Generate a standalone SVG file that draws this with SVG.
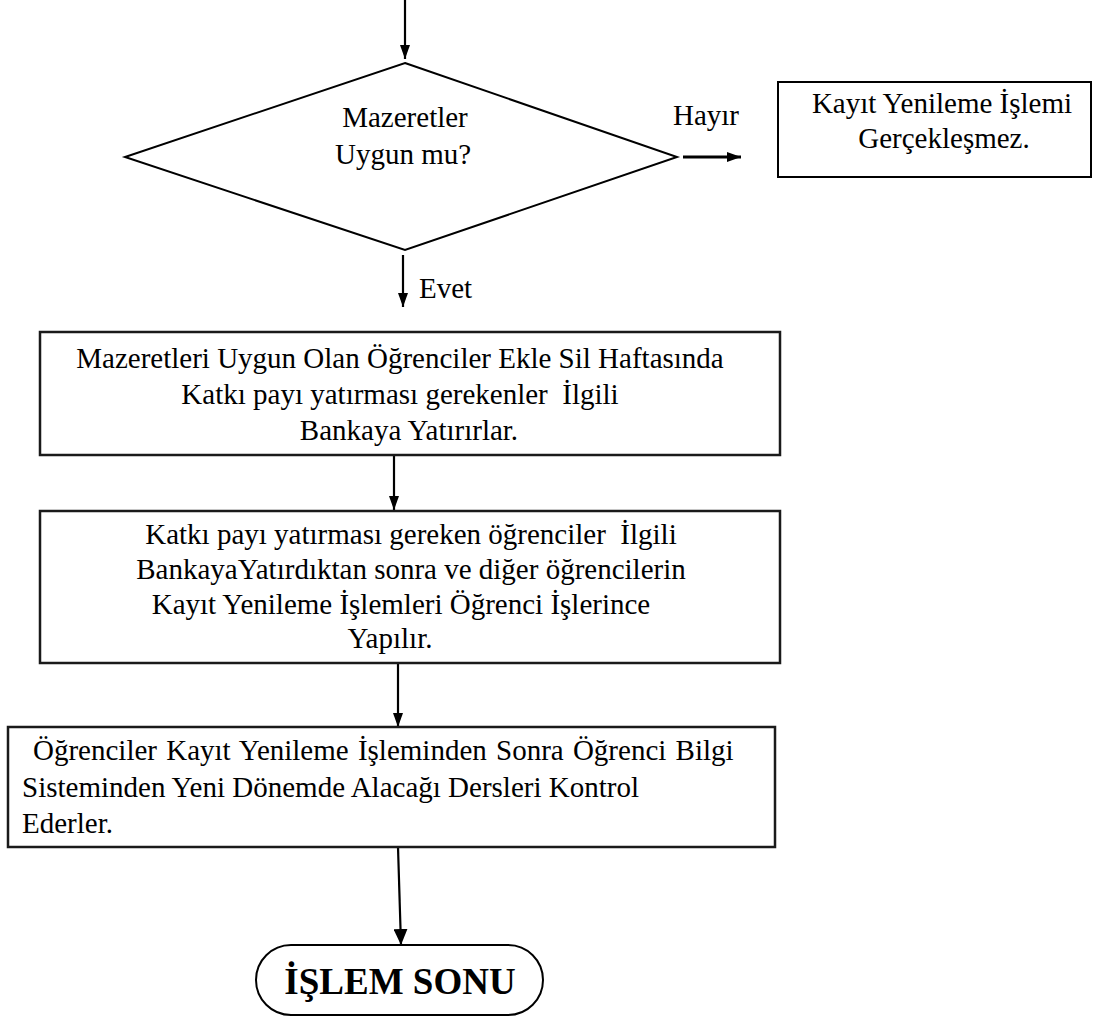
<svg xmlns="http://www.w3.org/2000/svg" width="1112" height="1023" viewBox="0 0 1112 1023">
  <style>
    .bg { fill: #ffffff; }
    .shape { fill: #ffffff; stroke: #000000; stroke-width: 2; }
    .box { fill: #ffffff; stroke: #1a1a1a; stroke-width: 2.5; }
    .edge { fill: none; stroke: #000000; stroke-width: 2.2; }
    .edge-bold { fill: none; stroke: #000000; stroke-width: 3.2; }
    text { font-family: "Liberation Serif", serif; fill: #000000; }
    .t { font-size: 29px; font-weight: normal; }
    .c { text-anchor: middle; }
    .wide { word-spacing: 2px; }
    .title { font-size: 37px; font-weight: bold; text-anchor: middle; }
  </style>
  <defs>
    <marker id="arrow" viewBox="0 0 14 10" refX="14" refY="5" markerWidth="14" markerHeight="10" markerUnits="userSpaceOnUse" orient="auto">
      <path d="M0,0 L14,5 L0,10 z" fill="#000000"/>
    </marker>
    <marker id="arrow-lg" viewBox="0 0 16 14" refX="16" refY="7" markerWidth="16" markerHeight="14" markerUnits="userSpaceOnUse" orient="auto">
      <path d="M0,0 L16,7 L0,14 z" fill="#000000"/>
    </marker>
  </defs>

  <rect class="bg" x="0" y="0" width="1112" height="1023"/>

  <!-- connectors -->
  <g id="connectors">
    <line class="edge" x1="405" y1="0" x2="405" y2="59" marker-end="url(#arrow)"/>
    <line class="edge-bold" x1="683" y1="157" x2="741" y2="157" marker-end="url(#arrow)"/>
    <text class="t" x="673" y="125">Hayır</text>
    <line class="edge" x1="403" y1="255" x2="403" y2="307" marker-end="url(#arrow)"/>
    <text class="t" x="419" y="298">Evet</text>
    <line class="edge" x1="394" y1="455" x2="394" y2="510" marker-end="url(#arrow)"/>
    <line class="edge" x1="398" y1="664" x2="398" y2="727" marker-end="url(#arrow)"/>
    <line class="edge" x1="398" y1="847" x2="401" y2="945" marker-end="url(#arrow-lg)"/>
  </g>

  <!-- decision -->
  <g id="node-decision">
    <polygon class="shape" points="405,63 677,157 405,250 125,157"/>
    <text class="t c" x="405" y="127">Mazeretler</text>
    <text class="t c" x="403" y="164">Uygun mu?</text>
  </g>

  <!-- rejected branch -->
  <g id="node-rejected">
    <rect class="shape" x="778" y="82" width="313" height="95"/>
    <text class="t c" x="942" y="113">Kayıt Yenileme İşlemi</text>
    <text class="t c" x="944" y="148">Gerçekleşmez.</text>
  </g>

  <!-- step 1 -->
  <g id="node-step1">
    <rect class="box" x="40" y="332" width="740" height="123"/>
    <text class="t c" x="400" y="368">Mazeretleri Uygun Olan Öğrenciler Ekle Sil Haftasında</text>
    <text class="t c" x="400" y="404" xml:space="preserve">Katkı payı yatırması gerekenler  İlgili</text>
    <text class="t c" x="409" y="440">Bankaya Yatırırlar.</text>
  </g>

  <!-- step 2 -->
  <g id="node-step2">
    <rect class="box" x="40" y="511" width="740" height="152"/>
    <text class="t c" x="411" y="544" xml:space="preserve">Katkı payı yatırması gereken öğrenciler  İlgili</text>
    <text class="t c" x="411" y="579">BankayaYatırdıktan sonra ve diğer öğrencilerin</text>
    <text class="t c" x="401" y="614">Kayıt Yenileme İşlemleri Öğrenci İşlerince</text>
    <text class="t c" x="390" y="648">Yapılır.</text>
  </g>

  <!-- step 3 -->
  <g id="node-step3">
    <rect class="box" x="8" y="727" width="767" height="120"/>
    <text class="t wide" x="33" y="760">Öğrenciler Kayıt Yenileme İşleminden Sonra Öğrenci Bilgi</text>
    <text class="t" x="22" y="797">Sisteminden Yeni Dönemde Alacağı Dersleri Kontrol</text>
    <text class="t" x="22" y="833">Ederler.</text>
  </g>

  <!-- terminator -->
  <g id="node-end">
    <rect class="shape" x="256" y="945" width="287" height="70" rx="35" ry="35"/>
    <text class="title" x="400" y="994">İŞLEM SONU</text>
  </g>
</svg>
